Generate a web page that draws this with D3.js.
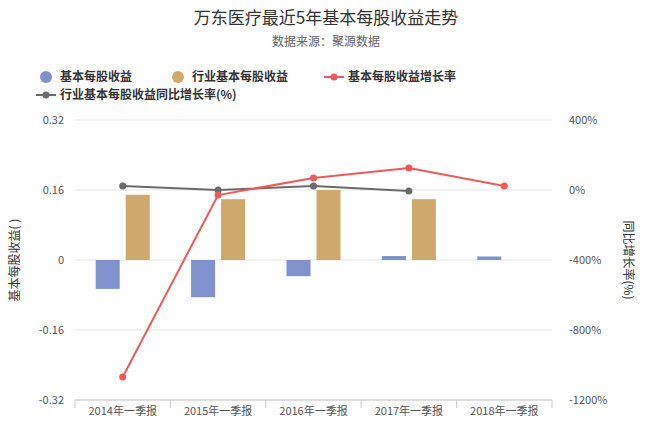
<!DOCTYPE html><html><head><meta charset="utf-8">
<script src="https://cdn.jsdelivr.net/npm/d3@7"></script>
<style>body{margin:0;background:#fff;font-family:"Noto Sans CJK SC","Noto Sans",sans-serif}</style></head><body>
<svg id="c" width="653" height="427"></svg>
<script>
const categories=["2014年一季报","2015年一季报","2016年一季报","2017年一季报","2018年一季报"];
const eps=[-0.066,-0.085,-0.037,0.009,0.008];
const industryEps=[0.149,0.139,0.16,0.139,null];
const epsGrowth=[-1069,-29,69,126,23];
const industryGrowth=[23,0,23,-6,null];
const leftTicks=[-0.32,-0.16,0,0.16,0.32];
const rightTicks=[-1200,-800,-400,0,400];
const svg=d3.select("#c");
const L=75,R=552,T=120,B=400;
const x=d3.scaleBand().domain(categories).range([L,R]);
const y=d3.scaleLinear().domain([-0.32,0.32]).range([B,T]);
const y2=d3.scaleLinear().domain([-1200,400]).range([B,T]);
svg.append("text").attr("x",326).attr("y",24).attr("text-anchor","middle").attr("font-size",17).attr("fill","#333").text("万东医疗最近5年基本每股收益走势");
svg.append("text").attr("x",326).attr("y",46).attr("text-anchor","middle").attr("font-size",12).attr("fill","#666").text("数据来源：聚源数据");
leftTicks.forEach(t=>svg.append("line").attr("x1",L).attr("x2",R).attr("y1",y(t)).attr("y2",y(t)).attr("stroke","#e6e6e6"));
svg.append("line").attr("x1",L).attr("x2",R).attr("y1",B).attr("y2",B).attr("stroke","#ccc");
categories.forEach((c,i)=>{svg.append("line").attr("x1",x(c)).attr("x2",x(c)).attr("y1",B).attr("y2",B+8).attr("stroke","#ccc");});
svg.append("line").attr("x1",R).attr("x2",R).attr("y1",B).attr("y2",B+8).attr("stroke","#ccc");
const lax=svg.append("g").attr("transform",`translate(${L-8},0)`).call(d3.axisLeft(y).tickValues(leftTicks).tickFormat(d=>d===0?"0":d.toFixed(2)).tickSize(0));
const rax=svg.append("g").attr("transform",`translate(${R+14},0)`).call(d3.axisRight(y2).tickValues(rightTicks).tickFormat(d=>d+"%").tickSize(0));
const xax=svg.append("g").attr("transform",`translate(0,${B+4})`).call(d3.axisBottom(x).tickSize(0));
[lax,rax,xax].forEach(a=>{a.select(".domain").remove();a.selectAll("text").attr("font-size",11).attr("fill","#555").attr("font-family","Noto Sans CJK SC");});
svg.append("text").attr("transform","translate(19,260) rotate(-90)").attr("text-anchor","middle").attr("font-size",12).attr("fill","#333").text("基本每股收益(  )");
svg.append("text").attr("transform","translate(624,260) rotate(90)").attr("text-anchor","middle").attr("font-size",12).attr("fill","#333").text("同比增长率(%)");
const bw=24;
svg.selectAll(".b1").data(eps).enter().append("rect").attr("x",(d,i)=>x(categories[i])+x.bandwidth()/2-bw-3).attr("width",bw)
 .attr("y",d=>y(Math.max(0,d))).attr("height",d=>Math.abs(y(d)-y(0))).attr("fill","#7f92cd");
svg.selectAll(".b2").data(industryEps).enter().filter(d=>d!=null).append("rect").attr("x",(d,i)=>x(categories[i])+x.bandwidth()/2+3).attr("width",bw)
 .attr("y",d=>y(Math.max(0,d))).attr("height",d=>Math.abs(y(d)-y(0))).attr("fill","#cfa86e");
function line(data,color){
 const pts=data.map((d,i)=>[x(categories[i])+x.bandwidth()/2,d]).filter(p=>p[1]!=null);
 svg.append("path").attr("d",d3.line().x(p=>p[0]).y(p=>y2(p[1]))(pts)).attr("fill","none").attr("stroke",color).attr("stroke-width",2);
 pts.forEach(p=>svg.append("circle").attr("cx",p[0]).attr("cy",y2(p[1])).attr("r",3.5).attr("fill",color));
}
line(industryGrowth,"#6b6b6b");
line(epsGrowth,"#ee5a5a");
const lg=[["基本每股收益","#7f92cd","c",40,77],["行业基本每股收益","#cfa86e","c",172,77],["基本每股收益增长率","#ee5a5a","l",328,77],["行业基本每股收益同比增长率(%)","#6b6b6b","l",40,95]];
lg.forEach(([t,c,k,lx,ly])=>{
 if(k==="c")svg.append("circle").attr("cx",lx+6).attr("cy",ly).attr("r",6).attr("fill",c);
 else{svg.append("line").attr("x1",lx-4).attr("x2",lx+16).attr("y1",ly).attr("y2",ly).attr("stroke",c).attr("stroke-width",2);svg.append("circle").attr("cx",lx+6).attr("cy",ly).attr("r",3.5).attr("fill",c);}
 svg.append("text").attr("x",lx+20).attr("y",ly+4).attr("font-size",12).attr("font-weight","bold").attr("fill","#333").text(t);
});
</script></body></html>
